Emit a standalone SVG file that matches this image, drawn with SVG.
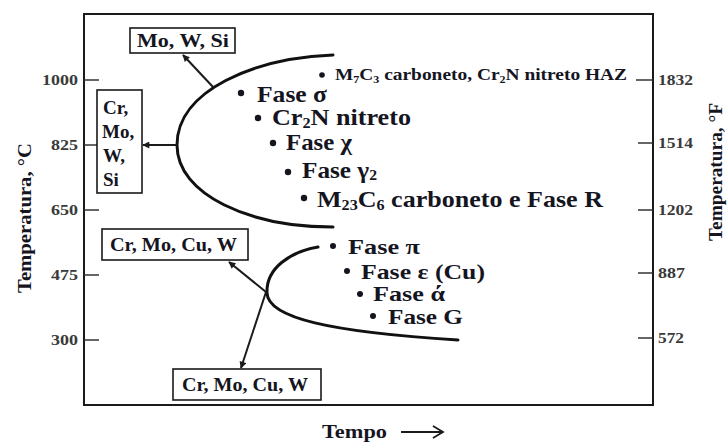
<svg xmlns="http://www.w3.org/2000/svg" width="727" height="444" viewBox="0 0 727 444">
  <defs>
    <style>
      .t { font-family: "Liberation Serif", "Times New Roman", serif; font-weight: bold; fill: #15151f; }
      .tick { font-family: "Liberation Serif", "Times New Roman", serif; font-weight: bold; fill: #3a3a3a; font-size: 15px; }
      .ph { font-size: 23px; }
      .ph2 { font-size: 21px; }
      .box { fill: #fff; stroke: #1a1a1a; stroke-width: 1.6; }
      .bt { font-size: 18px; }
      .curve { fill: none; stroke: #111; stroke-width: 3; stroke-linecap: round; }
      .conn { fill: none; stroke: #1a1a1a; stroke-width: 2; }
      .ax { fill: none; stroke: #1a1a1a; stroke-width: 2; }
      .tk { stroke: #333; stroke-width: 1.5; }
      .dot { fill: #15151f; }
      .sub { font-size: 62%; }
    </style>
    <marker id="ah" viewBox="0 0 10 10" refX="9" refY="5" markerWidth="9" markerHeight="7" markerUnits="userSpaceOnUse" orient="auto">
      <path d="M0,0 L10,5 L0,10 Z" fill="#1a1a1a"/>
    </marker>
  </defs>

  <rect width="727" height="444" fill="#fff"/>

  <g id="frame">
    <rect class="ax" x="84" y="14" width="569" height="391"/>
    <line class="tk" x1="84" y1="80" x2="99" y2="80"/>
    <line class="tk" x1="84" y1="145" x2="99" y2="145"/>
    <line class="tk" x1="84" y1="210" x2="99" y2="210"/>
    <line class="tk" x1="84" y1="275" x2="99" y2="275"/>
    <line class="tk" x1="84" y1="340" x2="99" y2="340"/>
    <line class="tk" x1="636" y1="80" x2="653" y2="80"/>
    <line class="tk" x1="638" y1="143" x2="653" y2="143"/>
    <line class="tk" x1="638" y1="210" x2="653" y2="210"/>
    <line class="tk" x1="638" y1="273" x2="653" y2="273"/>
    <line class="tk" x1="638" y1="338" x2="653" y2="338"/>
    <text class="tick" x="42" y="85" textLength="36" lengthAdjust="spacingAndGlyphs">1000</text>
    <text class="tick" x="51" y="150" textLength="27" lengthAdjust="spacingAndGlyphs">825</text>
    <text class="tick" x="51" y="215" textLength="27" lengthAdjust="spacingAndGlyphs">650</text>
    <text class="tick" x="51" y="280" textLength="27" lengthAdjust="spacingAndGlyphs">475</text>
    <text class="tick" x="51" y="345" textLength="27" lengthAdjust="spacingAndGlyphs">300</text>
    <text class="tick" x="658" y="85" textLength="35" lengthAdjust="spacingAndGlyphs">1832</text>
    <text class="tick" x="658" y="148" textLength="35" lengthAdjust="spacingAndGlyphs">1514</text>
    <text class="tick" x="658" y="215" textLength="35" lengthAdjust="spacingAndGlyphs">1202</text>
    <text class="tick" x="658" y="278" textLength="27" lengthAdjust="spacingAndGlyphs">887</text>
    <text class="tick" x="658" y="343" textLength="26" lengthAdjust="spacingAndGlyphs">572</text>
    <text class="t" font-size="19" transform="translate(31,218) rotate(-90)" text-anchor="middle" textLength="150" lengthAdjust="spacingAndGlyphs">Temperatura, °C</text>
    <text class="t" font-size="19" transform="translate(722,172) rotate(-90)" text-anchor="middle" textLength="138" lengthAdjust="spacingAndGlyphs">Temperatura, °F</text>
    <text class="t" font-size="19" x="322" y="438" textLength="65" lengthAdjust="spacingAndGlyphs">Tempo</text>
    <line x1="401" y1="432" x2="442" y2="432" stroke="#1a1a1a" stroke-width="1.8"/>
    <path d="M433,426 L443,432 L433,438" fill="none" stroke="#1a1a1a" stroke-width="1.8"/>
  </g>

  <g id="curve-upper">
    <path class="curve" d="M 333 55 C 255 58, 177 90, 177 145 C 177 195, 250 227, 333 227"/>
  </g>
  <g id="curve-lower">
    <path class="curve" d="M 318 247 C 290 252, 266 268, 267 293 C 268 318, 330 332, 458 340"/>
  </g>

  <g id="connectors">
    <line class="conn" x1="213" y1="87" x2="183" y2="55" marker-end="url(#ah)"/>
    <line class="conn" x1="177" y1="145" x2="143" y2="145" marker-end="url(#ah)"/>
    <line class="conn" x1="266" y1="292" x2="229" y2="262" marker-end="url(#ah)"/>
    <line class="conn" x1="266" y1="292" x2="241" y2="368" marker-end="url(#ah)"/>
  </g>

  <g id="box-mowsi">
    <rect class="box" x="130" y="28" width="105" height="25"/>
    <text class="t bt" x="137" y="47" textLength="92" lengthAdjust="spacingAndGlyphs">Mo, W, Si</text>
  </g>
  <g id="box-crmowsi">
    <rect class="box" x="97" y="90" width="45" height="103"/>
    <text class="t" font-size="19" x="103" y="114">Cr,</text>
    <text class="t" font-size="19" x="102" y="138">Mo,</text>
    <text class="t" font-size="19" x="103" y="162">W,</text>
    <text class="t" font-size="19" x="103" y="186">Si</text>
  </g>
  <g id="box-crmocuw-top">
    <rect class="box" x="102" y="229" width="146" height="31"/>
    <text class="t bt" x="110" y="251" textLength="127" lengthAdjust="spacingAndGlyphs">Cr, Mo, Cu, W</text>
  </g>
  <g id="box-crmocuw-bottom">
    <rect class="box" x="173" y="369" width="148" height="31"/>
    <text class="t bt" x="182" y="391" textLength="126" lengthAdjust="spacingAndGlyphs">Cr, Mo, Cu, W</text>
  </g>

  <g id="phase-m7c3">
    <circle class="dot" cx="322" cy="75" r="2.8"/>
    <text class="t" font-size="17" x="335" y="80" textLength="292" lengthAdjust="spacingAndGlyphs">M<tspan class="sub" dy="3">7</tspan><tspan dy="-3">C</tspan><tspan class="sub" dy="3">3</tspan><tspan dy="-3"> carboneto, Cr</tspan><tspan class="sub" dy="3">2</tspan><tspan dy="-3">N nitreto HAZ</tspan></text>
  </g>
  <g id="phase-sigma">
    <circle class="dot" cx="241" cy="93" r="3.2"/>
    <text class="t ph" x="257" y="102" textLength="70" lengthAdjust="spacingAndGlyphs">Fase σ</text>
  </g>
  <g id="phase-cr2n">
    <circle class="dot" cx="258" cy="118" r="3.2"/>
    <text class="t ph" x="272" y="125" textLength="139" lengthAdjust="spacingAndGlyphs">Cr<tspan class="sub" dy="3">2</tspan><tspan dy="-3">N nitreto</tspan></text>
  </g>
  <g id="phase-chi">
    <circle class="dot" cx="273" cy="143" r="3.2"/>
    <text class="t ph" x="286" y="150" textLength="66" lengthAdjust="spacingAndGlyphs">Fase χ</text>
  </g>
  <g id="phase-gamma2">
    <circle class="dot" cx="288" cy="172" r="3.2"/>
    <text class="t ph" x="302" y="178" textLength="75" lengthAdjust="spacingAndGlyphs">Fase γ<tspan class="sub" dy="2">2</tspan></text>
  </g>
  <g id="phase-m23c6">
    <circle class="dot" cx="304" cy="198" r="3.2"/>
    <text class="t ph" x="317" y="207" textLength="286" lengthAdjust="spacingAndGlyphs">M<tspan class="sub" dy="3">23</tspan><tspan dy="-3">C</tspan><tspan class="sub" dy="3">6</tspan><tspan dy="-3"> carboneto  e  Fase R</tspan></text>
  </g>

  <g id="phase-pi">
    <circle class="dot" cx="333" cy="246" r="3"/>
    <text class="t ph2" x="348" y="254" textLength="72" lengthAdjust="spacingAndGlyphs">Fase π</text>
  </g>
  <g id="phase-epsilon">
    <circle class="dot" cx="347" cy="271" r="3"/>
    <text class="t ph2" x="361" y="279" textLength="124" lengthAdjust="spacingAndGlyphs">Fase ε (Cu)</text>
  </g>
  <g id="phase-alpha">
    <circle class="dot" cx="360" cy="294" r="3"/>
    <text class="t ph2" x="373" y="301" textLength="72" lengthAdjust="spacingAndGlyphs">Fase ά</text>
  </g>
  <g id="phase-g">
    <circle class="dot" cx="373" cy="316" r="3"/>
    <text class="t ph2" x="388" y="324" textLength="75" lengthAdjust="spacingAndGlyphs">Fase G</text>
  </g>
</svg>
